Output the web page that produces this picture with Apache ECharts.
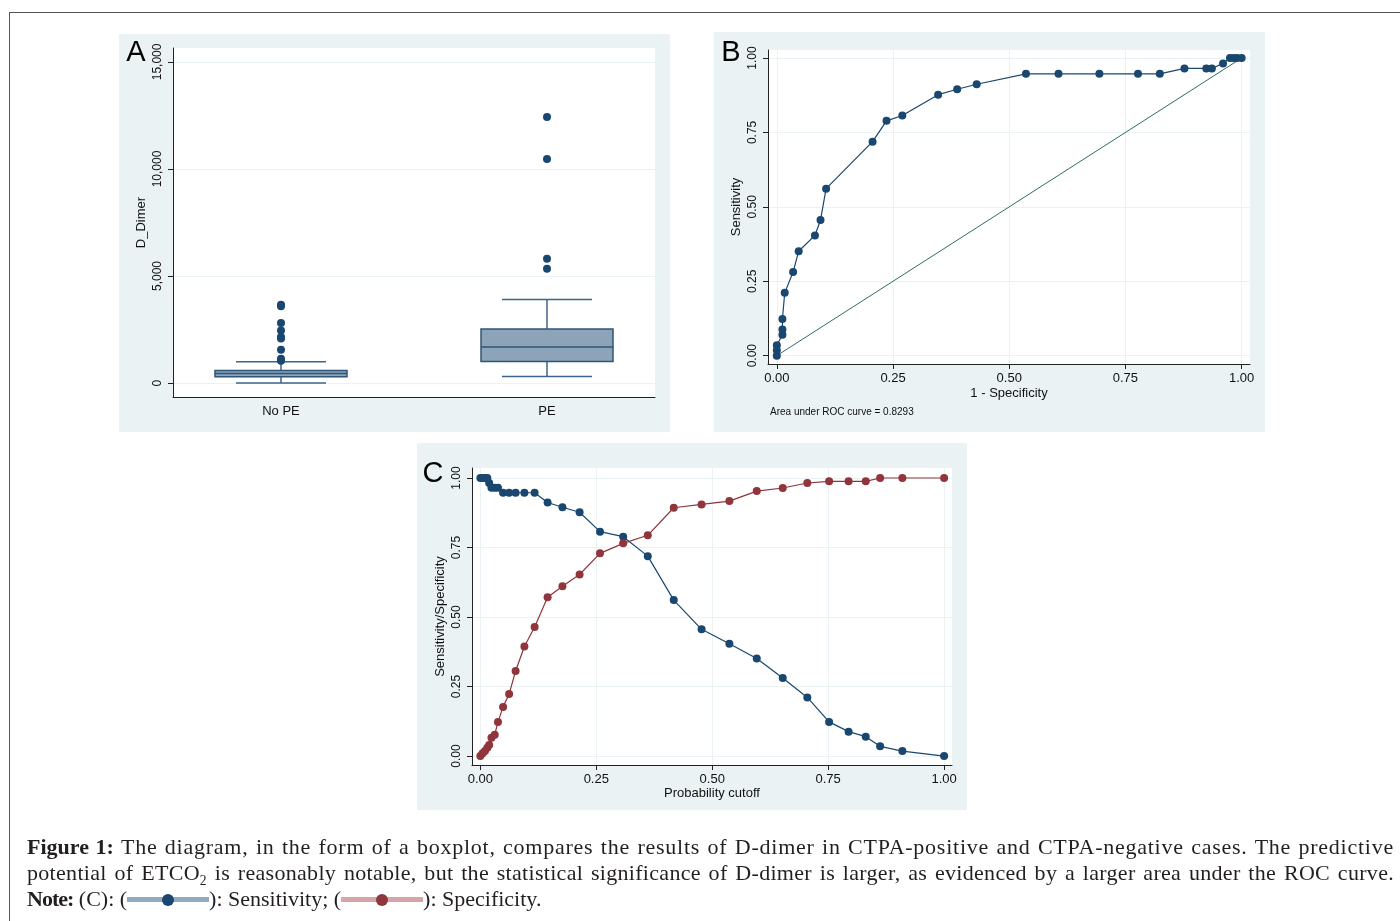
<!DOCTYPE html>
<html>
<head>
<meta charset="UTF-8">
<title>Figure 1</title>
<script src="https://cdn.jsdelivr.net/npm/echarts@6/dist/echarts.min.js"></script>
<style>
  body { margin: 0; background: #fff; }
  #frame { position: absolute; left: 9px; top: 12px; width: 1391px; height: 909px;
           border-top: 1px solid #555; border-left: 1px solid #555; }
  #main { position: absolute; left: 0; top: 0; width: 1400px; height: 921px; }
  #caption { position: absolute; left: 27px; top: 834px; width: 1367px; color: #231f20;
             font-family: "Liberation Serif", serif; font-size: 22px; line-height: 26px; }
  #caption .j { text-align: justify; text-align-last: justify; }
  #caption sub { font-size: 0.62em; vertical-align: -0.4em; line-height: 0; }
  .key { display: inline-block; position: relative; width: 82px; height: 10px; vertical-align: 1px; }
  .key i { position: absolute; left: 0; right: 0; top: 2px; height: 5px; }
  .key b { position: absolute; left: 35px; top: -1px; width: 12px; height: 12px; border-radius: 6px; }
</style>
</head>
<body>
<div id="frame"></div>
<div id="main"></div>
<div id="caption">
  <div class="j" style="letter-spacing:0.75px"><b style="letter-spacing:0">Figure 1:</b> The diagram, in the form of a boxplot, compares the results of D-dimer in CTPA-positive and CTPA-negative cases. The predictive</div>
  <div class="j" style="letter-spacing:0.3px">potential of ETCO<sub>2</sub> is reasonably notable, but the statistical significance of D-dimer is larger, as evidenced by a larger area under the ROC curve.</div>
  <div><b style="letter-spacing:-1px">Note:</b> (C): (<span class="key"><i style="background:#93aac3"></i><b style="background:#1a476f"></b></span>): Sensitivity; (<span class="key"><i style="background:#d6a5a9"></i><b style="background:#90353b"></b></span>): Specificity.</div>
</div>

<script type="text/javascript">
    // panel A: D-dimer boxplot
    var boxGroups = ['No PE', 'PE'];
    var boxMin = [0, 308];
    var boxQ1 = [294, 1009];
    var boxMedian = [449, 1682];
    var boxQ3 = [589, 2523];
    var boxMax = [995, 3907];
    var noPeOutliers = [3664, 3585, 2804, 2458, 2150, 2080, 1556, 1136, 1043];
    var peOutliers = [12430, 10470, 5810, 5340];
    var dimerTicks = [0, 5000, 10000, 15000];

    // panel B: ROC curve
    var rocFpr = [0, 0, 0, 0.012, 0.012, 0.012, 0.017, 0.035, 0.047, 0.082, 0.094, 0.106, 0.206, 0.236, 0.270,
                  0.347, 0.388, 0.430, 0.536, 0.606, 0.694, 0.777, 0.824, 0.877, 0.924, 0.936, 0.960, 0.975, 0.983, 0.990, 1];
    var rocSens = [0, 0.018, 0.035, 0.070, 0.088, 0.123, 0.211, 0.281, 0.351, 0.404, 0.456, 0.561, 0.719, 0.789, 0.807,
                   0.877, 0.895, 0.912, 0.947, 0.947, 0.947, 0.947, 0.947, 0.965, 0.965, 0.965, 0.982, 1, 1, 1, 1];
    var refLine = [[0, 0], [1, 1]];

    // panel C: sensitivity / specificity by cutoff
    var cutoff = [0, 0.005, 0.010, 0.015, 0.019, 0.024, 0.031, 0.038, 0.049, 0.062, 0.076, 0.095, 0.117, 0.145, 0.177,
                  0.214, 0.258, 0.308, 0.361, 0.417, 0.477, 0.537, 0.596, 0.652, 0.705, 0.752, 0.794, 0.831, 0.862, 0.910, 1.0];
    var sensitivity = [1, 1, 1, 1, 0.982, 0.965, 0.965, 0.965, 0.947, 0.947, 0.947, 0.947, 0.947, 0.912, 0.895,
                       0.877, 0.807, 0.789, 0.719, 0.561, 0.456, 0.404, 0.351, 0.281, 0.211, 0.123, 0.088, 0.070, 0.035, 0.018, 0];
    var specificity = [0, 0.010, 0.018, 0.030, 0.040, 0.066, 0.077, 0.123, 0.177, 0.223, 0.306, 0.394, 0.464, 0.571, 0.611,
                       0.653, 0.729, 0.765, 0.794, 0.893, 0.905, 0.917, 0.953, 0.964, 0.982, 0.988, 0.988, 0.988, 1, 1, 1];
    var unitTicks = [0, 0.25, 0.5, 0.75, 1];

    var navy = '#1a476f', maroon = '#90353b', green = '#2d6d66';
    var bgColor = '#eaf2f3', gridColor = '#eaf2f3', axisColor = '#222';
    var font = 'Liberation Sans';

    function zip(a, b) {
        var out = [];
        for (var i = 0; i < a.length; i++) out.push([a[i], b[i]]);
        return out;
    }

    function valueAxis(grid, min, max, ticks, opts) {
        var ax = {
            gridIndex: grid, type: 'value', min: min, max: max,
            axisLine: { show: true, onZero: false, lineStyle: { color: axisColor, width: 1 } },
            axisTick: { show: true, length: 5, customValues: ticks, lineStyle: { color: axisColor } },
            axisLabel: { customValues: ticks, color: '#111', fontFamily: font, fontSize: 13 },
            splitLine: { show: true, lineStyle: { color: gridColor, width: 1 } },
            nameLocation: 'middle',
            nameTextStyle: { color: '#111', fontFamily: font, fontSize: 13 }
        };
        for (var k in opts) {
            if (typeof opts[k] === 'object' && ax[k]) Object.assign(ax[k], opts[k]);
            else ax[k] = opts[k];
        }
        return ax;
    }

    var myChart = echarts.init(document.getElementById('main'), null, { renderer: 'canvas' });

    var option = {
        animation: false,
        graphic: [
            { type: 'rect', z: -100, shape: { x: 119, y: 34, width: 551, height: 398 }, style: { fill: bgColor } },
            { type: 'rect', z: -100, shape: { x: 714, y: 32, width: 551, height: 400 }, style: { fill: bgColor } },
            { type: 'rect', z: -100, shape: { x: 417, y: 443, width: 550, height: 367 }, style: { fill: bgColor } },
            { type: 'text', x: 136, y: 53, style: { text: 'A', font: '29px ' + font, fill: '#000', align: 'center', verticalAlign: 'middle' } },
            { type: 'text', x: 731, y: 53, style: { text: 'B', font: '29px ' + font, fill: '#000', align: 'center', verticalAlign: 'middle' } },
            { type: 'text', x: 433, y: 474, style: { text: 'C', font: '29px ' + font, fill: '#000', align: 'center', verticalAlign: 'middle' } },
            { type: 'text', x: 770, y: 412, style: { text: 'Area under ROC curve = 0.8293', font: '10px ' + font, fill: '#111', verticalAlign: 'middle' } }
        ],
        grid: [
            { left: 173, top: 48, width: 482, height: 349, show: true, backgroundColor: '#fff', borderWidth: 0 },
            { left: 768, top: 50, width: 482, height: 314, show: true, backgroundColor: '#fff', borderWidth: 0 },
            { left: 472, top: 468, width: 480, height: 297, show: true, backgroundColor: '#fff', borderWidth: 0 }
        ],
        xAxis: [
            valueAxis(0, -0.406, 1.406, [0, 1], {
                axisTick: { show: false },
                splitLine: { show: false },
                axisLabel: { margin: 8, formatter: function (v) { return boxGroups[Math.round(v)]; } }
            }),
            valueAxis(1, -0.019, 1.018, unitTicks, {
                name: '1 - Specificity', nameGap: 23,
                axisLabel: { margin: 8, formatter: function (v) { return v.toFixed(2); } }
            }),
            valueAxis(2, -0.018, 1.017, unitTicks, {
                name: 'Probability cutoff', nameGap: 22,
                axisLabel: { margin: 8, formatter: function (v) { return v.toFixed(2); } }
            })
        ],
        yAxis: [
            valueAxis(0, -650, 15650, dimerTicks, {
                name: 'D_Dimer', nameGap: 25,
                axisLabel: { rotate: 90, margin: 9, fontSize: 12, formatter: function (v) { return v.toLocaleString('en-US'); } }
            }),
            valueAxis(1, -0.028, 1.027, unitTicks, {
                name: 'Sensitivity', nameGap: 25,
                axisLabel: { rotate: 90, margin: 9, fontSize: 12, formatter: function (v) { return v.toFixed(2); } }
            }),
            valueAxis(2, -0.032, 1.036, unitTicks, {
                name: 'Sensitivity/Specificity', nameGap: 25,
                axisLabel: { rotate: 90, margin: 9, fontSize: 12, formatter: function (v) { return v.toFixed(2); } }
            })
        ],
        series: [
            {
                type: 'custom', xAxisIndex: 0, yAxisIndex: 0,
                data: boxGroups.map(function (g, i) { return [i, boxMin[i], boxQ1[i], boxMedian[i], boxQ3[i], boxMax[i]]; }),
                encode: { x: 0, y: [1, 2, 3, 4, 5] },
                renderItem: function (params, api) {
                    var x = api.value(0);
                    var pLo = api.coord([x, api.value(1)]);
                    var pQ1 = api.coord([x, api.value(2)]);
                    var pMed = api.coord([x, api.value(3)]);
                    var pQ3 = api.coord([x, api.value(4)]);
                    var pHi = api.coord([x, api.value(5)]);
                    var hb = 66, hc = 45, cx = pMed[0];
                    var ls = { stroke: '#3d6388', lineWidth: 1.5 };
                    return {
                        type: 'group',
                        children: [
                            { type: 'line', shape: { x1: cx, y1: pQ3[1], x2: cx, y2: pHi[1] }, style: ls },
                            { type: 'line', shape: { x1: cx, y1: pQ1[1], x2: cx, y2: pLo[1] }, style: ls },
                            { type: 'line', shape: { x1: cx - hc, y1: pHi[1], x2: cx + hc, y2: pHi[1] }, style: ls },
                            { type: 'line', shape: { x1: cx - hc, y1: pLo[1], x2: cx + hc, y2: pLo[1] }, style: ls },
                            { type: 'rect', shape: { x: cx - hb, y: pQ3[1], width: 2 * hb, height: pQ1[1] - pQ3[1] },
                              style: { fill: '#8ca3b8', stroke: '#2f5579', lineWidth: 1.5 } },
                            { type: 'line', shape: { x1: cx - hb, y1: pMed[1], x2: cx + hb, y2: pMed[1] },
                              style: { stroke: '#2f5579', lineWidth: 1.5 } }
                        ]
                    };
                }
            },
            {
                type: 'scatter', xAxisIndex: 0, yAxisIndex: 0, symbolSize: 8,
                itemStyle: { color: navy, opacity: 1 },
                data: noPeOutliers.map(function (v) { return [0, v]; }).concat(peOutliers.map(function (v) { return [1, v]; }))
            },
            {
                type: 'line', xAxisIndex: 1, yAxisIndex: 1, data: refLine, symbol: 'none',
                lineStyle: { color: green, width: 1 }
            },
            {
                type: 'line', xAxisIndex: 1, yAxisIndex: 1, data: zip(rocFpr, rocSens),
                symbol: 'circle', symbolSize: 8, showAllSymbol: true,
                itemStyle: { color: navy }, lineStyle: { color: navy, width: 1.2 }
            },
            {
                type: 'line', xAxisIndex: 2, yAxisIndex: 2, data: zip(cutoff, sensitivity),
                symbol: 'circle', symbolSize: 8, showAllSymbol: true,
                itemStyle: { color: navy }, lineStyle: { color: navy, width: 1.2 }
            },
            {
                type: 'line', xAxisIndex: 2, yAxisIndex: 2, data: zip(cutoff, specificity),
                symbol: 'circle', symbolSize: 8, showAllSymbol: true,
                itemStyle: { color: maroon }, lineStyle: { color: maroon, width: 1.2 }
            }
        ]
    };
    myChart.setOption(option);
</script>
</body>
</html>
